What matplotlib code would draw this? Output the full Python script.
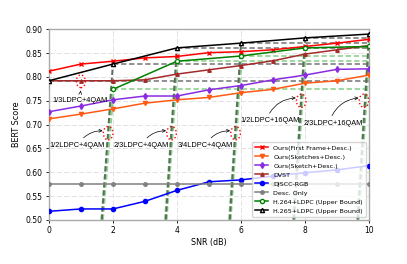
import matplotlib
matplotlib.use("Agg")
import matplotlib.pyplot as plt
from matplotlib.patches import Ellipse
import numpy as np

snr = np.arange(0, 11)
snr_even = np.arange(0, 11, 2)
snr_h264 = np.array([2, 4, 6, 8, 10])

first_frame = [0.812, 0.827, 0.833, 0.840, 0.843, 0.851, 0.853, 0.857, 0.864, 0.871, 0.879]
sketches = [0.712, 0.722, 0.733, 0.745, 0.752, 0.757, 0.767, 0.774, 0.787, 0.792, 0.804]
sketch = [0.727, 0.739, 0.752, 0.760, 0.760, 0.773, 0.782, 0.794, 0.804, 0.816, 0.817]
dvst = [0.792, 0.792, 0.792, 0.794, 0.806, 0.815, 0.824, 0.834, 0.848, 0.857, 0.866]
djscc = [0.518, 0.523, 0.523, 0.539, 0.562, 0.580, 0.584, 0.592, 0.599, 0.605, 0.614]
desc_only = [0.575] * 11
h264 = [0.774, 0.833, 0.844, 0.861, 0.864]
h265 = [0.792, 0.827, 0.861, 0.871, 0.882, 0.890]

labels_4qam = ["1/2LDPC+4QAM", "2/3LDPC+4QAM", "3/4LDPC+4QAM"]
labels_16qam = ["1/2LDPC+16QAM", "2/3LDPC+16QAM"]

plt.rcParams['lines.scale_dashes'] = False

fig = plt.figure(figsize=(4.07, 2.64), dpi=100)
ax = fig.add_axes([0.12, 0.167, 0.787, 0.722])
fs = 5.3
afont = 'Liberation Sans'
dash = (3.8, 2.0)

# cliff lines of the separate source/channel coding baselines
for x0, v in zip(snr_h264, h264):
    ax.plot([x0, 10], [v, v], color='#8fd18f', lw=1.2, dashes=dash, zorder=2)
    ax.plot([x0 - 0.4, x0], [0.45, v], color='#8fd18f', lw=2.6, dashes=dash, zorder=2)
for x0, v in zip(snr_even, h265):
    ax.plot([x0, 10], [v, v], color='#888888', lw=1.3, dashes=dash, zorder=2)
    ax.plot([x0 - 0.4, x0], [0.45, v], color='#5a6e5a', lw=1.4, dashes=dash, zorder=3)

ax.plot(snr, first_frame, color='red', marker='x', ms=3, lw=1.1, label='Ours(First Frame+Desc.)', zorder=5)
ax.plot(snr, sketches, color='#ff5a14', marker='v', ms=3, lw=1.1, label='Ours(Sketches+Desc.)', zorder=5)
ax.plot(snr, sketch, color='#8a2be2', marker='d', ms=3, lw=1.1, label='Ours(Sketch+Desc.)', zorder=5)
ax.plot(snr, dvst, color='#a52a2a', marker='^', ms=2.5, lw=1.1, label='DVST', zorder=5)
ax.plot(snr, djscc, color='blue', marker='o', ms=3, lw=1.1, label='DJSCC-RGB', zorder=4)
ax.plot(snr, desc_only, color='gray', marker='o', ms=2.5, lw=1.1, label='Desc. Only', zorder=4)
ax.plot(snr_h264, h264, color='green', marker='o', ms=3, mfc='white', lw=1.1, label='H.264+LDPC (Upper Bound)', zorder=5)
ax.plot(snr_even, h265, color='black', marker='^', ms=3, mfc='white', lw=1.1, label='H.265+LDPC (Upper Bound)', zorder=5)

# red circles and annotations
ell_kw = dict(fill=False, ec='red', ls=':', lw=1.0, zorder=6)
ax.add_patch(Ellipse((1.0, 0.791), 0.28, 0.027, **ell_kw))
ax.annotate("1/3LDPC+4QAM", xy=(1.0, 0.777), xytext=(0.1, 0.751), fontsize=fs, va='center',
            family=afont, arrowprops=dict(arrowstyle='->', color='black', lw=0.5), zorder=7)

x_4qam = [1.85, 3.83, 5.83]
for x0, lab in zip(x_4qam, labels_4qam):
    ax.add_patch(Ellipse((x0, 0.682), 0.3, 0.028, **ell_kw))
    ax.annotate(lab, xy=(x0 - 0.17, 0.687), xytext=(x0 - 1.82, 0.657), fontsize=fs, va='center',
                family=afont,
                arrowprops=dict(arrowstyle='->', color='black', lw=0.5,
                                connectionstyle='arc3,rad=-0.25', shrinkA=1, shrinkB=0,
                                relpos=(0.55, 1.0)), zorder=7)

x_16qam = [7.88, 9.84]
y_16qam = [0.708, 0.703]
for x0, yt, lab in zip(x_16qam, y_16qam, labels_16qam):
    ax.add_patch(Ellipse((x0, 0.75), 0.3, 0.028, **ell_kw))
    ax.annotate(lab, xy=(x0 - 0.17, 0.756), xytext=(x0 - 1.89, yt), fontsize=fs, va='center',
                family=afont,
                arrowprops=dict(arrowstyle='->', color='black', lw=0.5,
                                connectionstyle='arc3,rad=-0.3', shrinkA=1, shrinkB=0,
                                relpos=(0.45, 1.0)), zorder=7)

ax.set_xlim(0, 10)
ax.set_ylim(0.5, 0.9)
ax.set_xticks([0, 2, 4, 6, 8, 10])
ax.set_yticks(np.arange(0.5, 0.901, 0.05))
ax.tick_params(labelsize=5.5, length=2.5, width=0.6, pad=2)
ax.grid(True, ls='--', color='#dddddd', lw=0.6)
ax.set_xlabel("SNR (dB)", fontsize=5.8, labelpad=2)
ax.set_ylabel("BERT Score", fontsize=5.8, labelpad=3)
for s in ax.spines.values():
    s.set_color('#aaaaaa')
    s.set_linewidth(1.0)

leg = ax.legend(loc='lower right', fontsize=4.6, framealpha=0.8, handlelength=2.0,
                labelspacing=0.55, borderpad=0.5)
leg.set_zorder(10)

fig.savefig("out.png", dpi=100)
